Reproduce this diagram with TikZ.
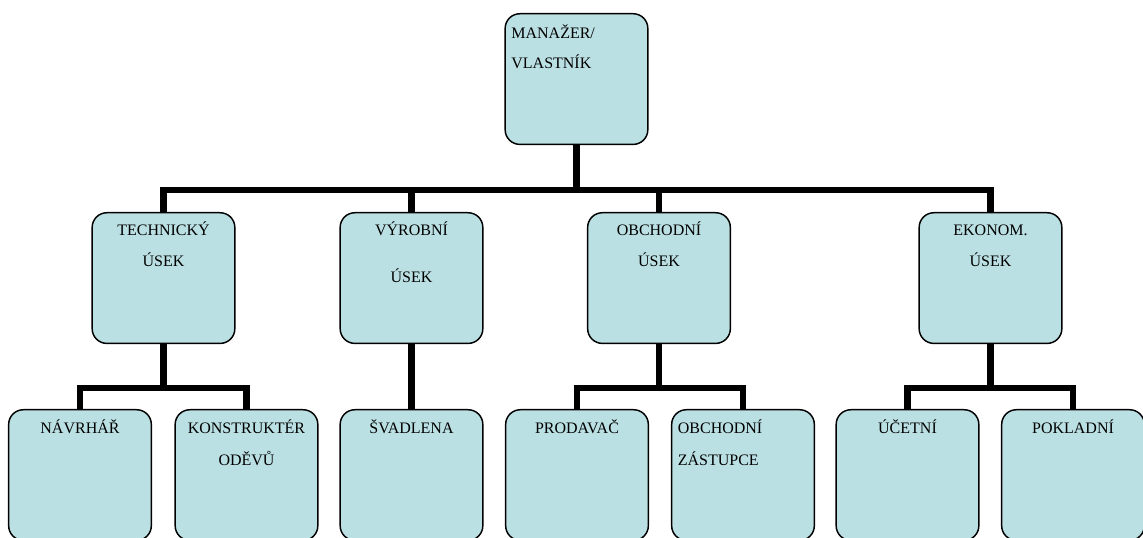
\documentclass[tikz,border=0pt]{standalone}
\usepackage{fontspec}
\setmainfont{Liberation Serif}
\usepackage{tikz}
\definecolor{boxblue}{RGB}{187,224,227}
\tikzset{
  unit/.style={draw, line width=1.1pt, rounded corners=11pt, fill=boxblue,
    minimum width=107pt, minimum height=98pt, inner sep=0, anchor=north},
  unittext/.style={align=center, font=\fontsize{12}{23}\selectfont, inner sep=0, anchor=base},
  lowtext/.style={unittext, font=\fontsize{12}{24.5}\selectfont},
  link/.style={line width=5pt}
}

\begin{document}
\begin{tikzpicture}[x=0.75pt, y=-0.75pt]
          \clip (0,0) rectangle (1143,538);
          % top box
          \node[unit] (mgr) at (576.5,13) {};
          % departments
          \node[unit] (tech) at (163.5,212) {};
          \node[unit] (vyr) at (411.5,212) {};
          \node[unit] (obch) at (659,212) {};
          \node[unit] (ekon) at (990.5,212) {};
          % staff
          \node[unit] (navr) at (80,409) {};
          \node[unit] (kons) at (246.5,409) {};
          \node[unit] (svad) at (411.5,409) {};
          \node[unit] (prod) at (577,409) {};
          \node[unit] (zast) at (743,409) {};
          \node[unit] (ucet) at (907.5,409) {};
          \node[unit] (pokl) at (1073,409) {};
          % connectors
          \draw[link] (mgr.south) -- ++(0,45) -| (tech.north);
          \draw[link] (mgr.south) -- ++(0,45) -| (vyr.north);
          \draw[link] (mgr.south) -- ++(0,45) -| (obch.north);
          \draw[link] (mgr.south) -- ++(0,45) -| (ekon.north);
          \draw[link] (tech.south) -- ++(0,44) -| (navr.north);
          \draw[link] (tech.south) -- ++(0,44) -| (kons.north);
          \draw[link] (vyr.south) -- (svad.north);
          \draw[link] (obch.south) -- ++(0,44) -| (prod.north);
          \draw[link] (obch.south) -- ++(0,44) -| (zast.north);
          \draw[link] (ekon.south) -- ++(0,44) -| (ucet.north);
          \draw[link] (ekon.south) -- ++(0,44) -| (pokl.north);
          % label the boxes (base = last line)
          \node[unittext, align=left, anchor=base west] (mgrtxt) at ([xshift=5pt,yshift=-42pt]mgr.north west) {MANAŽER/\\VLASTNÍK};
          \node[unittext] (techtxt) at ([yshift=-41pt]tech.north) {TECHNICKÝ\\ÚSEK};
          \node[unittext] (vyrtxt) at ([yshift=-53pt]vyr.north) {VÝROBNÍ\\[12pt]ÚSEK};
          \node[unittext] (obchtxt) at ([yshift=-41pt]obch.north) {OBCHODNÍ\\ÚSEK};
          \node[unittext] (ekontxt) at ([yshift=-41pt]ekon.north) {EKONOM.\\ÚSEK};
          \node[lowtext] (navrtxt) at ([yshift=-18pt]navr.north) {NÁVRHÁŘ};
          \node[lowtext] (konstxt) at ([yshift=-42.5pt]kons.north) {KONSTRUKTÉR\\ODĚVŮ};
          \node[lowtext] (svadtxt) at ([yshift=-18pt]svad.north) {ŠVADLENA};
          \node[lowtext] (prodtxt) at ([yshift=-18pt]prod.north) {PRODAVAČ};
          \node[lowtext, align=left, anchor=base west] (zasttxt) at ([xshift=5pt,yshift=-42.5pt]zast.north west) {OBCHODNÍ\\ZÁSTUPCE};
          \node[lowtext] (ucettxt) at ([yshift=-18pt]ucet.north) {ÚČETNÍ};
          \node[lowtext] (pokltxt) at ([yshift=-18pt]pokl.north) {POKLADNÍ};
\end{tikzpicture}
\end{document}
